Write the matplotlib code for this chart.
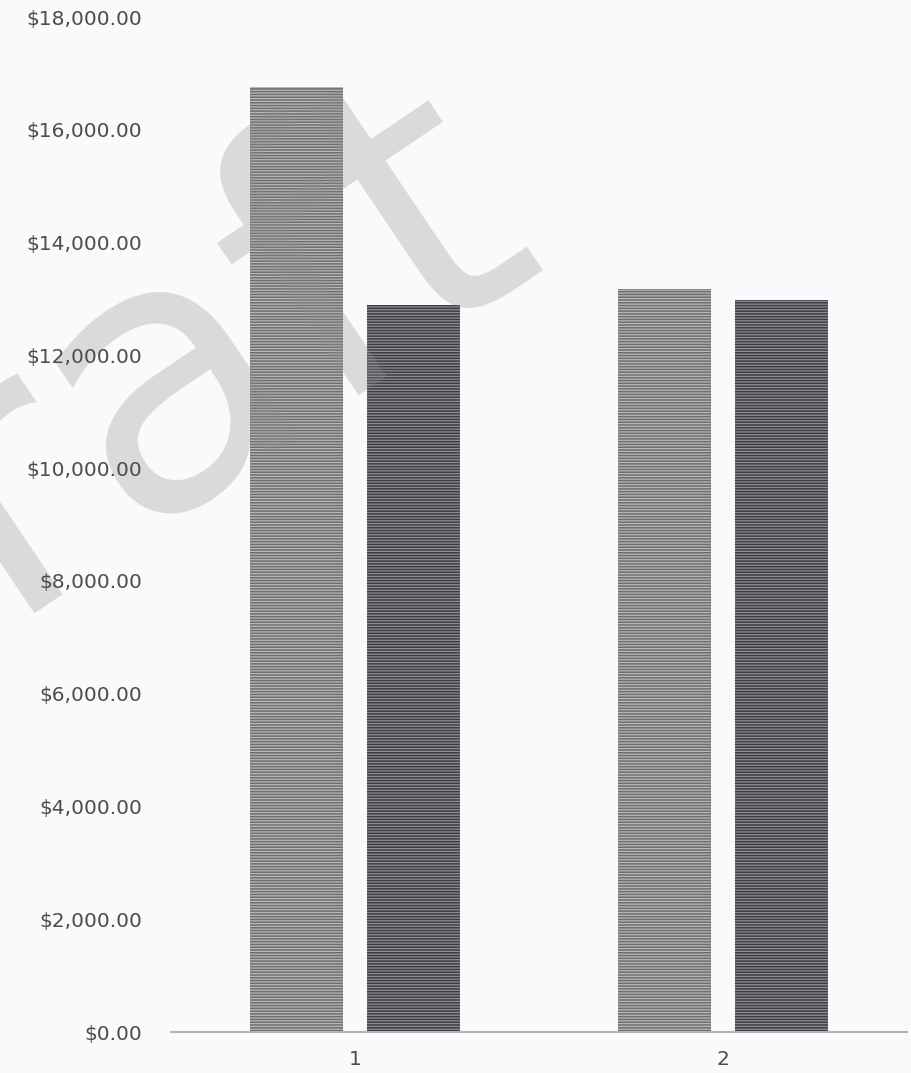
import numpy as np
import matplotlib.pyplot as plt
from matplotlib.ticker import FuncFormatter

# Values per group
groups = ["1", "2"]
series_a = [16760, 13170]
series_b = [12890, 12980]

y_max = 18000
y_step = 2000

plt.rcParams['hatch.linewidth'] = 0.9
plt.rcParams['font.family'] = ['DejaVu Sans']

fig = plt.figure(figsize=(9.12, 10.73), dpi=100, facecolor='#fafafc')
ax = fig.add_axes([0.1875, 0.0382, 0.807, 0.9458])
ax.set_facecolor('#fafafc')

x = np.arange(len(groups))
w = 0.255
off = 0.159

ax.bar(x - off, series_a, width=w, color='#6e6e70', edgecolor='#b8b8ba',
       hatch='------', linewidth=0, zorder=1)
ax.bar(x + off, series_b, width=w, color='#3c3c42', edgecolor='#8e8e94',
       hatch='------', linewidth=0, zorder=1)

ax.set_xlim(-0.5, 1.5)
ax.set_ylim(0, y_max)
ax.set_xticks(x)
ax.set_xticklabels(groups)
ax.set_yticks(np.arange(0, y_max + 1, y_step))
ax.yaxis.set_major_formatter(FuncFormatter(lambda v, _: f"${v:,.2f}"))

for s in ['top', 'right', 'left']:
    ax.spines[s].set_visible(False)
ax.spines['bottom'].set_color('#b4b4b6')
ax.spines['bottom'].set_linewidth(1.5)
ax.tick_params(axis='y', length=0, pad=21, labelsize=14.5, labelcolor='#4c4c4c')
ax.tick_params(axis='x', length=0, pad=13, labelsize=14.5, labelcolor='#4c4c4c')

# watermark: above the bars, below the tick labels
ax.text(0.598, 0.772, "Draft", transform=fig.transFigure, clip_on=False,
        rotation=34, rotation_mode='anchor', ha='right', va='baseline',
        fontsize=270, color='#8f8f8f', alpha=0.3, zorder=1.2)

fig.savefig('out.png', dpi=100, facecolor=fig.get_facecolor())
